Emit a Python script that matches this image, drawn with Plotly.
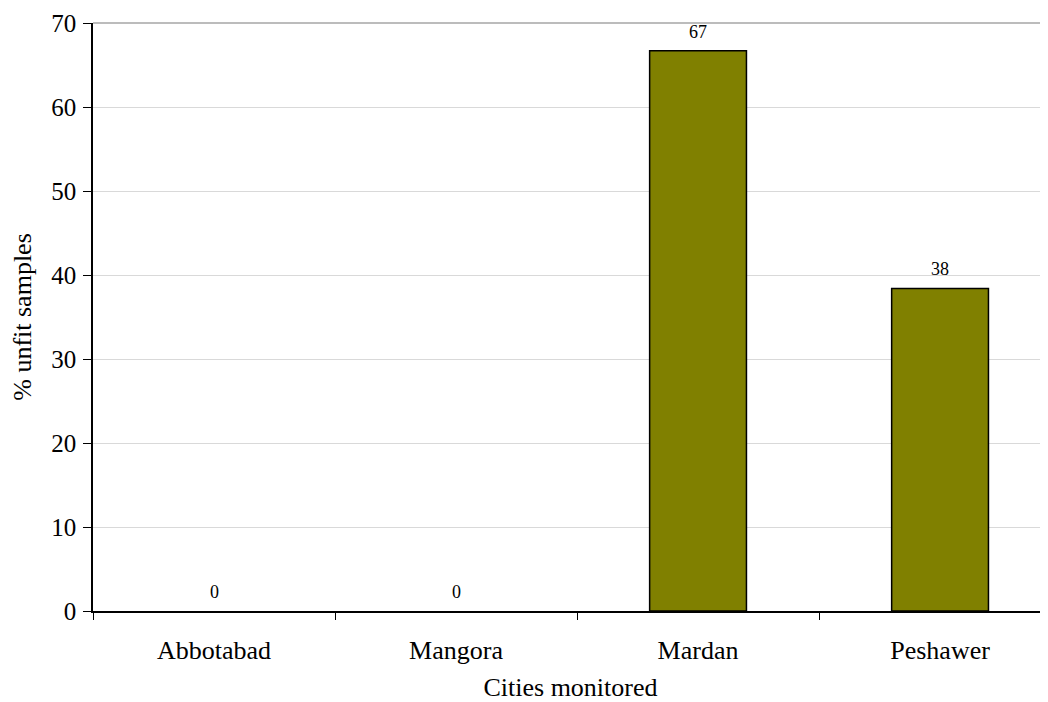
import plotly.graph_objects as go

cities = ["Abbotabad", "Mangora", "Mardan", "Peshawer"]
unfit_pct = [0, 0, 66.7, 38.4]
y_ticks = [0, 10, 20, 30, 40, 50, 60, 70]

FONT = "Liberation Serif, Times New Roman, serif"

fig = go.Figure()
fig.add_trace(go.Bar(
    x=cities, y=unfit_pct, width=0.4,
    marker=dict(color="#808000",
                line=dict(color="black", width=[0 if v == 0 else 1.5 for v in unfit_pct])),
    hoverinfo="skip",
))

for c, v in zip(cities, unfit_pct):
    fig.add_annotation(x=c, y=v, text=f"{v:.0f}", showarrow=False,
                       yanchor="bottom", yshift=7,
                       font=dict(family=FONT, size=18, color="black"))

fig.add_shape(type="line", xref="paper", yref="paper", x0=0, x1=1, y0=1, y1=1,
              line=dict(color="#a6a6a6", width=1.5))

fig.update_layout(
    width=1040, height=694,
    margin=dict(l=85, r=0, t=15, b=91),
    plot_bgcolor="white", paper_bgcolor="white",
    showlegend=False,
    font=dict(family=FONT, color="black"),
)
fig.update_xaxes(
    type="category", range=[-0.5, 3.446],
    showline=True, linecolor="black", linewidth=1.5,
    ticks="outside", tickson="boundaries", ticklen=7, tickcolor="black", tickwidth=1,
    tickfont=dict(family=FONT, size=26), showgrid=False,
    ticklabelstandoff=15,
    title=dict(text="Cities monitored", font=dict(family=FONT, size=26), standoff=18),
)
fig.update_yaxes(
    range=[0, 70], tickvals=y_ticks,
    showline=True, linecolor="black", linewidth=1.5,
    ticks="outside", ticklen=8, tickcolor="black", tickwidth=1,
    tickfont=dict(family=FONT, size=25),
    ticklabelstandoff=2,
    showgrid=True, gridcolor="#d9d9d9", gridwidth=1,
    zeroline=False,
    title=dict(text="% unfit samples", font=dict(family=FONT, size=26), standoff=12),
)

fig.write_html("out.html")
